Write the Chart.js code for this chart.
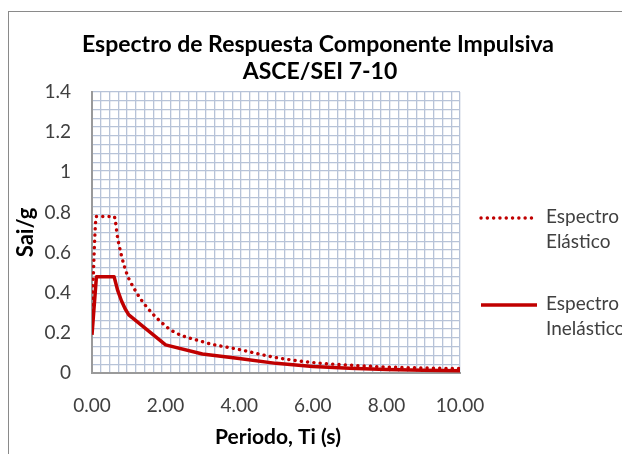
<!DOCTYPE html>
<html>
<head>
<meta charset="utf-8">
<script src="https://cdn.jsdelivr.net/npm/chart.js@4"></script>
<style>
  html, body { margin: 0; padding: 0; background: #fff; }
  #wrap { width: 622px; height: 454px; }
</style>
</head>
<body>
<div id="wrap"><canvas id="espectro" width="622" height="454"></canvas></div>
<script>
const periodo    = [0, 0.12, 0.6, 0.7, 0.8, 0.9, 1, 2, 3, 4, 5, 6, 7, 8, 9, 10];
const elastico   = [0.31, 0.78, 0.78, 0.67, 0.585, 0.52, 0.47, 0.234, 0.156, 0.117, 0.077, 0.052, 0.039, 0.030, 0.025, 0.022];
const inelastico = [0.19, 0.48, 0.48, 0.41, 0.36, 0.32, 0.29, 0.14, 0.095, 0.072, 0.048, 0.032, 0.024, 0.018, 0.014, 0.011];

const titulo = ['Espectro de Respuesta Componente Impulsiva', 'ASCE/SEI 7-10'];
const xTitulo = 'Periodo, Ti (s)';
const yTitulo = 'Sai/g';
const nombres = [['Espectro', 'Elástico'], ['Espectro', 'Inelástico']];

const FONT = 'Lato, "Open Sans", sans-serif';
const rojo = '#c00000';
const gridColor = '#b7c3d8';

const pts = ys => periodo.map((t, i) => ({x: t, y: ys[i]}));

// grid lines every ~8.8 px, independent from the labelled ticks
const minorTicks = (max, n) => s => {
  s.ticks = [];
  for (let i = 0; i <= n; i++) s.ticks.push({value: i * max / n});
};

const decor = {
  id: 'decor',
  beforeDraw(chart) {
    const ctx = chart.ctx;
    ctx.save();
    ctx.fillStyle = '#fff';
    ctx.fillRect(0, 0, chart.width, chart.height);
    ctx.strokeStyle = '#8a8a8a';
    ctx.lineWidth = 1;
    ctx.strokeRect(8.5, 11.5, 700, 600);
    ctx.restore();
  },
  afterDraw(chart) {
    const ctx = chart.ctx;
    ctx.save();
    ctx.textAlign = 'center';
    ctx.textBaseline = 'middle';
    ctx.fillStyle = '#000';
    ctx.font = 'bold 23px ' + FONT;
    ctx.fillText(titulo[0], 318, 45);
    ctx.fillText(titulo[1], 320, 72);
    ctx.font = 'bold 21px ' + FONT;
    ctx.fillText(xTitulo, 278, 437);

    // legend
    const items = chart.data.datasets;
    const ys = [218, 305];
    ctx.textAlign = 'left';
    ctx.font = '19px ' + FONT;
    items.forEach((ds, i) => {
      const y = ys[i];
      ctx.save();
      ctx.strokeStyle = ds.borderColor;
      ctx.lineWidth = ds.borderWidth;
      ctx.lineCap = ds.borderCapStyle || 'butt';
      ctx.setLineDash(ds.borderDash || []);
      ctx.beginPath();
      ctx.moveTo(481, y);
      ctx.lineTo(537, y);
      ctx.stroke();
      ctx.restore();
      ctx.fillStyle = '#404040';
      ctx.fillText(nombres[i][0], 546, y - 1);
      ctx.fillText(nombres[i][1], 546, y + 24);
    });
    ctx.restore();
  }
};

new Chart(document.getElementById('espectro'), {
  type: 'line',
  data: {
    datasets: [{
      label: 'Espectro Elástico',
      data: pts(elastico),
      borderColor: rojo,
      borderWidth: 3.4,
      borderDash: [0.1, 6.2],
      borderCapStyle: 'round',
      cubicInterpolationMode: 'monotone',
      pointRadius: 0,
      fill: false
    }, {
      label: 'Espectro Inelástico',
      data: pts(inelastico),
      borderColor: rojo,
      borderWidth: 3.5,
      borderJoinStyle: 'round',
      tension: 0,
      pointRadius: 0,
      fill: false
    }]
  },
  options: {
    responsive: false,
    animation: false,
    layout: {padding: {top: 92, right: 162, bottom: 0, left: 0}},
    plugins: {legend: {display: false}, title: {display: false}, tooltip: {enabled: false}},
    scales: {
      x: {
        type: 'linear', position: 'bottom', min: 0, max: 10,
        afterFit: s => { s.height = 81; },
        grid: {display: false, drawTicks: false},
        border: {display: true, color: '#9a9a9a', width: 2},
        ticks: {stepSize: 2, padding: 21, color: '#404040', font: {family: FONT, size: 19},
                callback: v => v.toFixed(2)}
      },
      xg: {
        type: 'linear', position: 'top', min: 0, max: 10,
        afterBuildTicks: minorTicks(10, 42),
        afterFit: s => { s.height = 0; },
        grid: {color: gridColor, lineWidth: 1.3, drawTicks: false},
        border: {display: false},
        ticks: {display: false}
      },
      y: {
        type: 'linear', position: 'left', min: 0, max: 1.4,
        afterFit: s => { s.width = 92; },
        grid: {display: false, drawTicks: false},
        border: {display: true, color: '#9a9a9a', width: 2},
        title: {display: true, text: yTitulo, color: '#000', padding: {top: 13},
                font: {family: FONT, size: 22, weight: 'bold'}},
        ticks: {stepSize: 0.2, padding: 21, color: '#404040', font: {family: FONT, size: 19},
                callback: v => +v.toFixed(1)}
      },
      yg: {
        type: 'linear', position: 'right', min: 0, max: 1.4,
        afterBuildTicks: minorTicks(1.4, 32),
        afterFit: s => { s.width = 0; },
        grid: {color: gridColor, lineWidth: 1.3, drawTicks: false},
        border: {display: false},
        ticks: {display: false}
      }
    }
  },
  plugins: [decor]
});
</script>
</body>
</html>
